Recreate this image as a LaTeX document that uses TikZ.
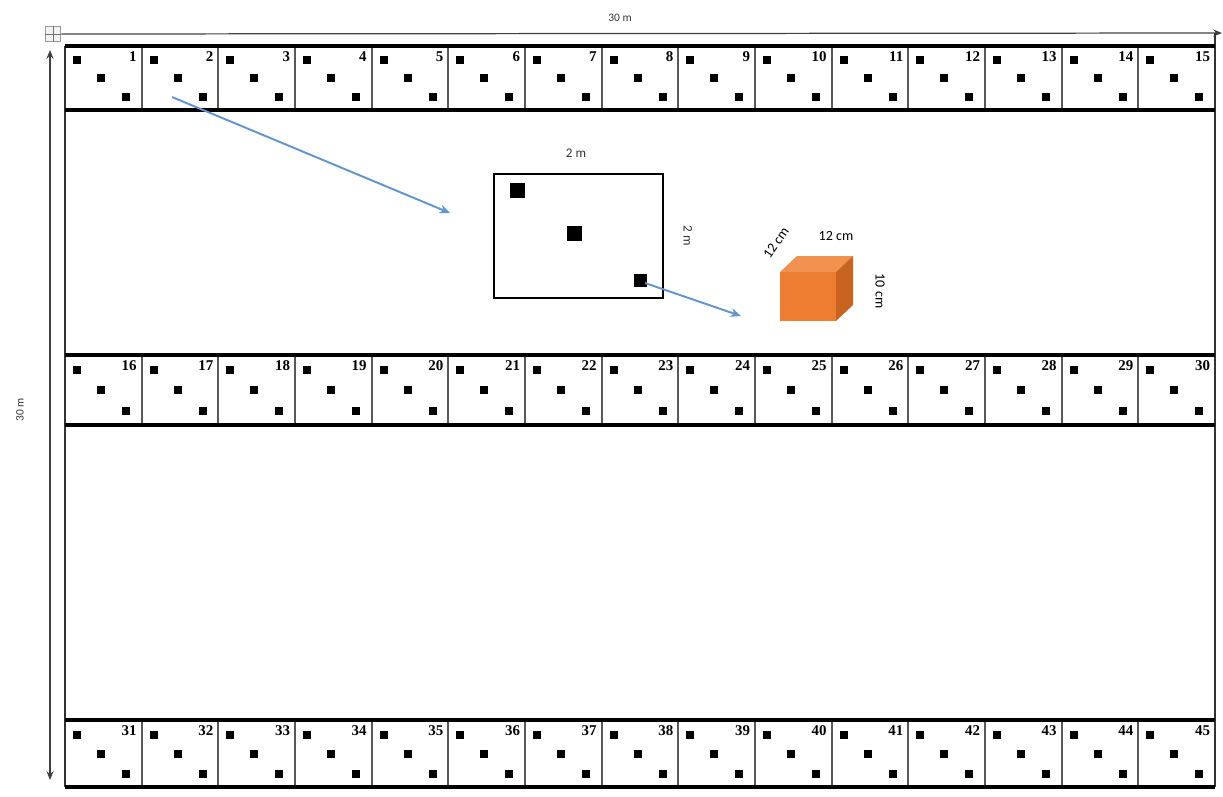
\documentclass[tikz,border=0pt]{standalone}
\usepackage{fontspec}
\setmainfont{Liberation Serif}
\newfontfamily\labelfont{Carlito}
\usetikzlibrary{arrows.meta}

% one plant in a plot, centred at (#1,#2), side #3 px
\newcommand{\plant}[3]{\fill (#1,#2) +(-#3/2,-#3/2) rectangle +(#3/2,#3/2);}

\tikzset{
  rowline/.style={line width=2.2pt},
  cellwall/.style={line width=1pt, draw=black!65},
  border/.style={line width=0.8pt, draw=black!80},
  plotnum/.style={font=\fontsize{8.5}{10}\selectfont\bfseries, inner sep=0pt, anchor=north east},
  dimlabel/.style={font=\labelfont\fontsize{6.5}{8}\selectfont, text=black!80, inner sep=1pt},
  cubelabel/.style={font=\labelfont\fontsize{8}{9}\selectfont, inner sep=0pt},
  dimline/.style={line width=0.7pt, draw=black!75, -{Stealth[length=5pt,width=4pt]}},
  zoomarrow/.style={line width=1.1pt, draw=arrowblue, -{Stealth[length=6pt,width=5pt]}}
}
\definecolor{arrowblue}{RGB}{96,150,205}
\definecolor{boxfront}{RGB}{237,125,49}
\definecolor{boxtop}{RGB}{241,146,80}
\definecolor{boxside}{RGB}{200,100,30}

\begin{document}
\begin{tikzpicture}[x=0.02cm, y=-0.02cm]
\useasboundingbox (0,0) rectangle (1223,796);

% handle and the two 30 m dimensions
\node[draw=black!40, fill=black!5, line width=0.5pt, minimum size=9pt, inner sep=0pt] (handle) at (53,34) {};
\draw[black!55, line width=0.5pt] (handle.north) -- (handle.south) (handle.west) -- (handle.east);
\coordinate (topend) at (1222,33);
\draw[dimline] (handle.east) -- (topend);
\node[dimlabel] (widthlbl) at (620,18) {30 m};
\coordinate (lefttop) at (50,50);
\coordinate (leftbot) at (50,780);
\draw[dimline, {Stealth[length=5pt,width=4pt]}-{Stealth[length=5pt,width=4pt]}] (lefttop) -- (leftbot);
\node[dimlabel, rotate=90] (heightlbl) at (20,410) {30 m};

% field edges
\draw[border] (65,46) -- (65,787);
\draw[border] (1215,33) -- (1215,787);

% three strips of 15 plots
\foreach \top/\bot/\first in {46/110/1, 355/425/16, 720/787/31} {
  \pgfmathsetmacro\h{\bot-\top}
  \foreach \i in {0,...,14} {
    \pgfmathsetmacro\xa{65+\i*76.667}
    \pgfmathtruncatemacro\n{\first+\i}
    \ifnum\i>0 \draw[cellwall] (\xa,\top) -- (\xa,\bot); \fi
    \plant{\xa+12}{\top+0.22*\h}{8}
    \plant{\xa+36}{\top+0.5*\h}{8}
    \plant{\xa+61}{\top+0.8*\h}{8}
    \node[plotnum] (p\n) at (\xa+72,\top+5) {\n};
  }
  \draw[rowline] (65,\top) -- (1215,\top);
  \draw[rowline] (65,\bot) -- (1215,\bot);
}

% sampling quadrat
\draw[line width=1.3pt] (494,174) rectangle (663,298);
\node (quadrat) at (578.5,236) {};
\plant{517}{190}{15}
\plant{574}{233}{15}
\plant{640}{280}{13}
\node[dimlabel, font=\labelfont\fontsize{7.5}{9}\selectfont] (qwidth) at (576,153) {2 m};
\node[dimlabel, font=\labelfont\fontsize{7.5}{9}\selectfont, rotate=-90] (qheight) at (688,236) {2 m};

% soil block
\fill[boxfront] (780,272) rectangle (836,321);
\fill[boxtop] (780,272) -- (797,256) -- (853,256) -- (836,272) -- cycle;
\fill[boxside] (836,272) -- (853,256) -- (853,305) -- (836,321) -- cycle;
\node[cubelabel] (blocklen) at (836,236) {12 cm};
\node[cubelabel, rotate=55] (blockwid) at (776,243) {12 cm};
\node[cubelabel, rotate=-90] (blockdep) at (880,291) {10 cm};

% zoom arrows
\coordinate (plotpick) at (172,97);
\coordinate (quadin) at (450,213);
\coordinate (plantpick) at (645,283);
\coordinate (blockin) at (741,316);
\draw[zoomarrow] (plotpick) -- (quadin);
\draw[zoomarrow] (plantpick) -- (blockin);
\end{tikzpicture}
\end{document}
